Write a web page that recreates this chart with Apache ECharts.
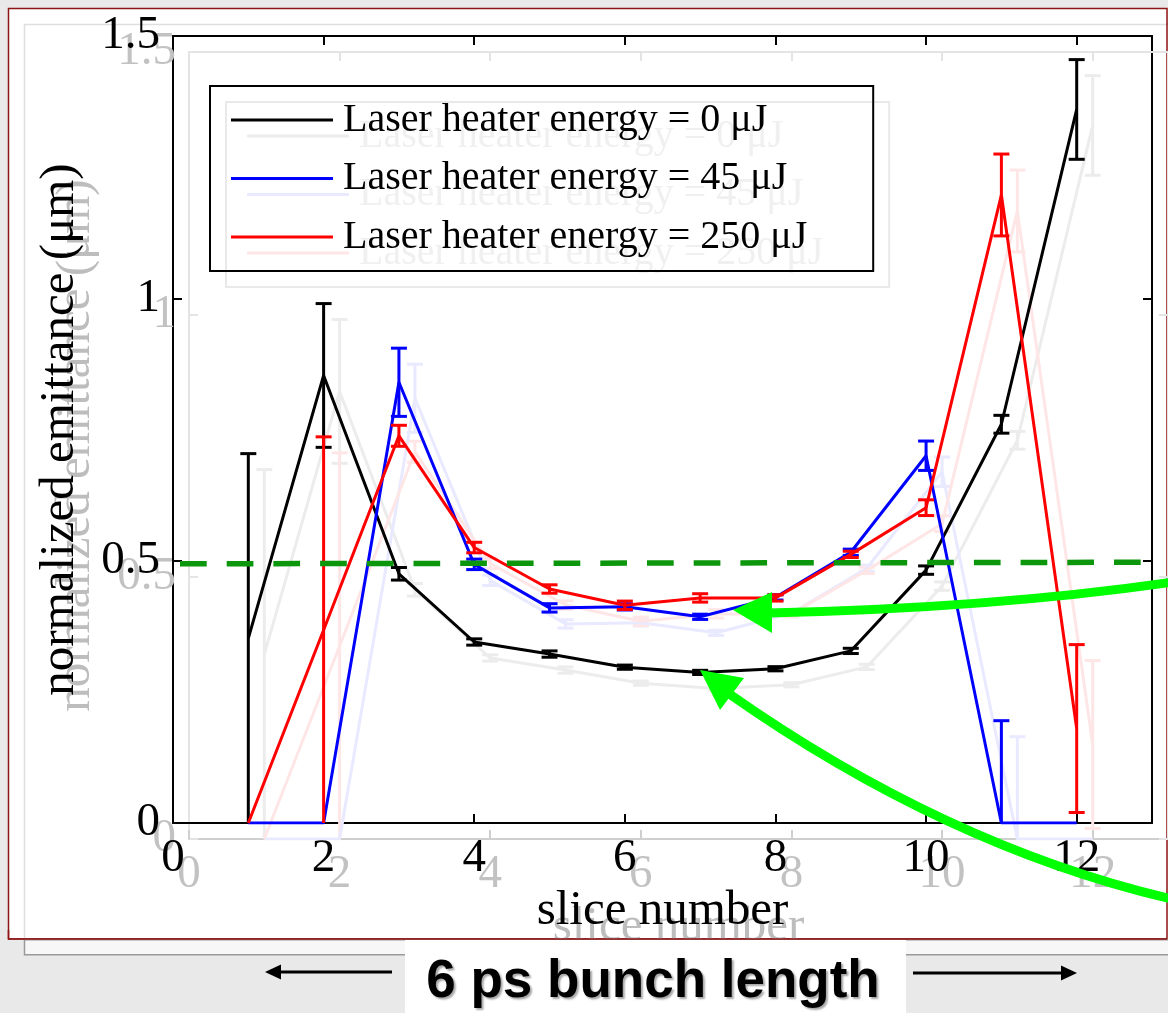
<!DOCTYPE html>
<html><head><meta charset="utf-8">
<script src="https://cdn.jsdelivr.net/npm/echarts@6/dist/echarts.min.js"></script>
<style>html,body{margin:0;padding:0;background:#e9e9e9}#c{width:1168px;height:1013px}</style>
</head><body><div id="c"></div><script>
// ---------------- data ----------------
const sliceNumbers = [1, 2, 3, 4, 5, 6, 7, 8, 9, 10, 11, 12];
const seriesNames = ['Laser heater energy = 0 \u03bcJ', 'Laser heater energy = 45 \u03bcJ', 'Laser heater energy = 250 \u03bcJ'];
const emit0   = [0.352, 0.853, 0.475, 0.345, 0.322, 0.297, 0.287, 0.294, 0.328, 0.482, 0.760, 1.360];
const err0    = [0.352, 0.137, 0.012, 0.006, 0.006, 0.004, 0.004, 0.004, 0.005, 0.008, 0.017, 0.095];
const emit45  = [0, 0, 0.840, 0.493, 0.410, 0.412, 0.393, 0.430, 0.516, 0.700, 0, 0];
const err45   = [0, 0, 0.065, 0.010, 0.008, 0.006, 0.005, 0.005, 0.006, 0.028, 0.195, 0];
const emit250 = [0, 0.368, 0.738, 0.525, 0.446, 0.415, 0.429, 0.429, 0.512, 0.601, 1.197, 0.180];
const err250  = [0, 0.368, 0.020, 0.010, 0.008, 0.008, 0.008, 0.006, 0.006, 0.015, 0.078, 0.160];
const xTicks = [0, 2, 4, 6, 8, 10, 12];
const yTicks = [0, 0.5, 1, 1.5];
const thresholdStart = [0, 0.494];
const thresholdEnd = [13, 0.497];
const xName = 'slice number';
const yName = 'normalized emittance (\u03bcm)';
const bottomNote = '6 ps bunch length';

// ---------------- styles ----------------
const SERIF = 'Liberation Serif';
const mainColors = ['#000000', '#0000ff', '#ff0000'];
const ghostColors = ['#ececec', '#e9e9ff', '#ffe6e6'];
const allValues = [emit0, emit45, emit250];
const allErrs = [err0, err45, err250];
const LW = 3;

function pairs(vals) { return sliceNumbers.map((x, i) => [x, vals[i]]); }
function errData(vals, errs) {
  const out = [];
  sliceNumbers.forEach((x, i) => { if (errs[i] > 0) out.push([x, vals[i] - errs[i], vals[i] + errs[i]]); });
  return out;
}
function makeErr(color, lw) {
  return function (params, api) {
    const x = api.value(0), lo = api.value(1), hi = api.value(2);
    const top = api.coord([x, hi]);
    const bot = api.coord([x, Math.max(lo, 0)]);
    const h = 8;
    const st = { stroke: color, lineWidth: lw, fill: null };
    const ch = [
      { type: 'line', shape: { x1: top[0], y1: top[1], x2: bot[0], y2: bot[1] }, style: st },
      { type: 'line', shape: { x1: top[0] - h, y1: top[1], x2: top[0] + h, y2: top[1] }, style: st }
    ];
    if (lo > 0) ch.push({ type: 'line', shape: { x1: bot[0] - h, y1: bot[1], x2: bot[0] + h, y2: bot[1] }, style: st });
    return { type: 'group', children: ch };
  };
}

function axesFor(gi, ghost) {
  const lineC = ghost ? '#e4e4e4' : '#000';
  const botC = ghost ? '#cfcfcf' : '#000';
  const txtC = ghost ? '#c2c2c2' : '#000';
  const nameC = ghost ? '#bdbdbd' : '#000';
  const tick = (c, vals) => ({ show: true, inside: true, length: 9, lineStyle: { color: c, width: 2 }, customValues: vals });
  const x = [
    { type: 'value', gridIndex: gi, position: 'bottom', min: 0, max: 13,
      axisLine: { show: true, onZero: false, lineStyle: { color: botC, width: 2 } },
      axisTick: tick(botC, xTicks),
      axisLabel: { show: true, customValues: xTicks, fontFamily: SERIF, fontSize: 47, color: txtC, margin: 12 },
      splitLine: { show: false },
      name: xName, nameLocation: 'middle', nameGap: 64, nameMoveOverlap: false,
      nameTextStyle: { fontFamily: SERIF, fontSize: 49, color: nameC } },
    { type: 'value', gridIndex: gi, position: 'top', min: 0, max: 13,
      axisLine: { show: true, onZero: false, lineStyle: { color: lineC, width: 2 } },
      axisTick: tick(lineC, xTicks), axisLabel: { show: false }, splitLine: { show: false } }
  ];
  const y = [
    { type: 'value', gridIndex: gi, position: 'left', min: 0, max: 1.5, interval: 0.5,
      axisLine: { show: true, onZero: false, lineStyle: { color: lineC, width: 2 } },
      axisTick: tick(lineC, yTicks),
      axisLabel: { show: true, customValues: yTicks, fontFamily: SERIF, fontSize: 47, color: txtC, margin: 13 },
      splitLine: { show: false },
      name: yName, nameLocation: 'middle', nameRotate: 90, nameGap: 88, nameMoveOverlap: false,
      nameTextStyle: { fontFamily: SERIF, fontSize: 49, color: nameC } },
    { type: 'value', gridIndex: gi, position: 'right', min: 0, max: 1.5, interval: 0.5,
      axisLine: { show: true, onZero: false, lineStyle: { color: lineC, width: 2 } },
      axisTick: tick(lineC, yTicks), axisLabel: { show: false }, splitLine: { show: false } }
  ];
  return { x, y };
}

const ghostAx = axesFor(0, true);
const mainAx = axesFor(1, false);

const series = [];
// ghost copy (grid 0, axes 0)
for (let k = 0; k < 3; k++) {
  series.push({ type: 'line', name: seriesNames[k] + ' #g', xAxisIndex: 0, yAxisIndex: 0,
    data: pairs(allValues[k]), symbol: 'none', silent: true, z: 1,
    lineStyle: { color: ghostColors[k], width: LW }, itemStyle: { color: ghostColors[k] } });
  series.push({ type: 'custom', name: 'gerr' + k, xAxisIndex: 0, yAxisIndex: 0, silent: true, z: 1,
    renderItem: makeErr(ghostColors[k], LW), data: errData(allValues[k], allErrs[k]), encode: { x: 0, y: [1, 2] } });
}
// main (grid 1, axes 2)
for (let k = 0; k < 3; k++) {
  const s = { type: 'line', name: seriesNames[k], xAxisIndex: 2, yAxisIndex: 2,
    data: pairs(allValues[k]), symbol: 'none', silent: true, z: 4 + k,
    lineStyle: { color: mainColors[k], width: LW }, itemStyle: { color: mainColors[k] } };
  if (k === 0) {
    s.markLine = { silent: true, symbol: ['none', 'none'], label: { show: false }, z: 20,
      lineStyle: { color: '#0b960b', width: 5.5, type: [26.7, 20], dashOffset: 39.7 },
      data: [[{ coord: thresholdStart }, { coord: thresholdEnd }]] };
  }
  series.push(s);
  series.push({ type: 'custom', name: 'err' + k, xAxisIndex: 2, yAxisIndex: 2, silent: true, z: 4 + k,
    renderItem: makeErr(mainColors[k], LW), data: errData(allValues[k], allErrs[k]), encode: { x: 0, y: [1, 2] } });
}

const legendBase = { orient: 'vertical', padding: [14, 66, 14, 21], itemGap: 18.5, itemWidth: 102, itemHeight: 3,
  icon: 'rect', borderWidth: 2, selectedMode: false };

const graphic = [
  { type: 'rect', z: -10, shape: { x: 24, y: 24, width: 1200, height: 931 }, style: { fill: '#f7f7f7', stroke: '#9a9a9a', lineWidth: 1.5 } },
  { type: 'rect', z: -9, shape: { x: 8.5, y: 8.5, width: 1158.5, height: 930.5 }, style: { fill: '#ffffff', stroke: '#8e1515', lineWidth: 1.5 } },
  { type: 'polyline', z: -8, shape: { points: [[24.5, 938], [24.5, 24.5], [1166, 24.5]] }, style: { fill: null, stroke: '#dedede', lineWidth: 1.5 } },
  // bottom band (clips the ghost axis name)
  { type: 'rect', z: 30, shape: { x: 0, y: 939.75, width: 1168, height: 80 }, style: { fill: '#e9e9e9' } },
  { type: 'rect', z: 31, shape: { x: 24.5, y: 939.75, width: 1200, height: 15 }, style: { fill: '#f7f7f7', stroke: '#9a9a9a', lineWidth: 1.5 } },
  { type: 'line', z: 32, shape: { x1: 8, y1: 939, x2: 1167, y2: 939 }, style: { stroke: '#8e1515', lineWidth: 1.5 } },
  { type: 'line', z: 32, shape: { x1: 8.5, y1: 930, x2: 8.5, y2: 939.5 }, style: { stroke: '#8e1515', lineWidth: 1.5 } },
  { type: 'rect', z: 33, shape: { x: 405, y: 940, width: 501, height: 80 }, style: { fill: '#ffffff' } },
  { type: 'text', z: 34, style: { text: bottomNote, x: 653, y: 982, fill: '#000', font: 'bold 53px "Liberation Sans", Arial, sans-serif',
      textAlign: 'center', textVerticalAlign: 'middle', align: 'center', verticalAlign: 'middle',
      textShadowColor: 'rgba(0,0,0,0.35)', textShadowBlur: 2, textShadowOffsetX: 2, textShadowOffsetY: 2 } },
  { type: 'line', z: 34, shape: { x1: 392, y1: 972, x2: 278, y2: 972 }, style: { stroke: '#000', lineWidth: 3 } },
  { type: 'polygon', z: 34, shape: { points: [[265, 972], [281, 964.5], [281, 979.5]] }, style: { fill: '#000' } },
  { type: 'line', z: 34, shape: { x1: 913, y1: 973, x2: 1064, y2: 973 }, style: { stroke: '#000', lineWidth: 3 } },
  { type: 'polygon', z: 34, shape: { points: [[1077, 973], [1061, 965.5], [1061, 980.5]] }, style: { fill: '#000' } },
  // green annotation arrows
  { type: 'bezierCurve', z: 100, shape: { x1: 1180, y1: 581, cpx1: 998, cpy1: 608, x2: 768, y2: 613 }, style: { fill: null, stroke: '#00ff00', lineWidth: 9 } },
  { type: 'polygon', z: 100, shape: { points: [[733, 610], [772, 592], [772, 633]] }, style: { fill: '#00ff00' } },
  { type: 'bezierCurve', z: 100, shape: { x1: 1180, y1: 901, cpx1: 950, cpy1: 849, x2: 728, y2: 693 }, style: { fill: null, stroke: '#00ff00', lineWidth: 9 } },
  { type: 'polygon', z: 100, shape: { points: [[700, 670], [744, 678], [720, 710]] }, style: { fill: '#00ff00' } }
];

const option = {
  animation: false,
  backgroundColor: 'transparent',
  grid: [
    { left: 189, top: 52, width: 979, height: 787, show: false, containLabel: false, outerBoundsMode: 'none' },
    { left: 173, top: 36, width: 979, height: 787, show: false, containLabel: false, outerBoundsMode: 'none' }
  ],
  xAxis: ghostAx.x.concat(mainAx.x),
  yAxis: ghostAx.y.concat(mainAx.y),
  legend: [
    Object.assign({}, legendBase, { left: 226, top: 102, borderColor: '#e9e9e9', z: 1,
      data: seriesNames.map(n => n + ' #g'), formatter: n => n.replace(' #g', ''),
      textStyle: { fontFamily: SERIF, fontSize: 40, lineHeight: 40, color: '#f0f0f0', padding: [0, 0, 0, 5] } }),
    Object.assign({}, legendBase, { left: 210, top: 86, borderColor: '#000', z: 10,
      data: seriesNames,
      textStyle: { fontFamily: SERIF, fontSize: 40, lineHeight: 40, color: '#000', padding: [0, 0, 0, 5] } })
  ],
  series: series,
  graphic: { elements: graphic }
};

const chart = echarts.init(document.getElementById('c'), null, { renderer: 'canvas' });
chart.setOption(option);
</script></body></html>
